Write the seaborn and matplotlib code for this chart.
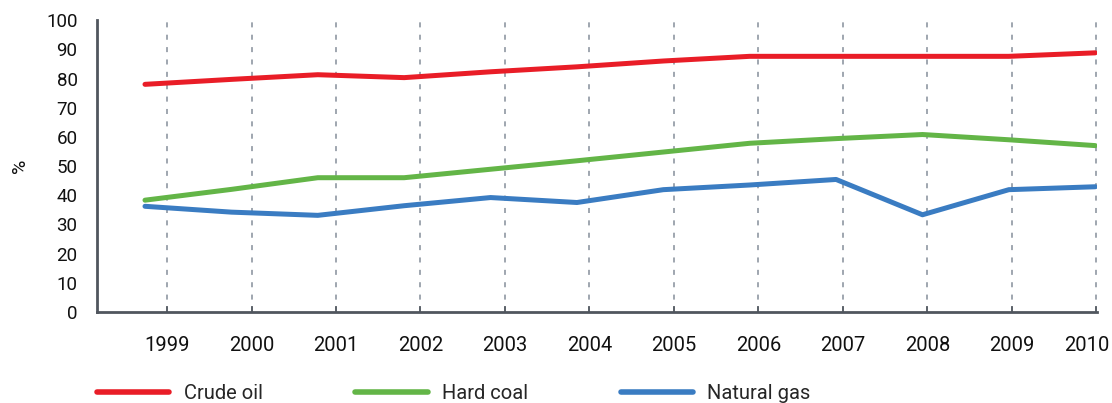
import matplotlib
matplotlib.use("Agg")
import matplotlib.pyplot as plt
import matplotlib.transforms as mtransforms
import numpy as np
import pandas as pd
import seaborn as sns

# Data (%)
years = ["1999", "2000", "2001", "2002", "2003", "2004",
         "2005", "2006", "2007", "2008", "2009", "2010"]
crude_oil = [78.0, 79.7, 81.3, 80.3, 82.3, 84.0, 86.0, 87.6, 87.6, 87.6, 87.6, 88.8]
hard_coal = [38.3, 42.0, 46.0, 46.0, 48.9, 51.8, 54.8, 57.8, 59.4, 60.8, 59.0, 57.0]
natural_gas = [36.2, 34.2, 33.1, 36.4, 39.2, 37.5, 41.9, 43.5, 45.4, 33.3, 41.9, 42.9]

series_names = ["Crude oil", "Hard coal", "Natural gas"]
colors = ["#e91d27", "#63b547", "#3a7cc2"]

df = pd.DataFrame({
    "pos": np.arange(len(years)),
    "Crude oil": crude_oil,
    "Hard coal": hard_coal,
    "Natural gas": natural_gas,
}).melt(id_vars="pos", var_name="series", value_name="share")

sns.set_theme(style="white")
plt.rcParams["font.family"] = ["Roboto", "DejaVu Sans"]

spine_color = "#50565e"
grid_color = "#858e9a"

fig, ax = plt.subplots(figsize=(11.12, 4.03), dpi=100)
fig.subplots_adjust(left=0.0872, right=0.9865, top=0.950, bottom=0.226)

sns.lineplot(data=df, x="pos", y="share", hue="series", hue_order=series_names,
             palette=colors, linewidth=3.6, ax=ax)

# category gridlines sit slightly off the data points, as in the original
tick_pos = np.arange(len(years)) * 0.978 + 0.255
ax.set_xticks(tick_pos, years)
ax.set_xlim(-0.556, 11.02)
ax.set_yticks(range(0, 101, 10))
ax.set_ylim(0, 100)

ax.grid(axis="x", color=grid_color, linewidth=1.1, linestyle=(0, (3.3, 4.8)))
ax.grid(axis="y", visible=False)
ax.set_axisbelow(True)

for side in ["top", "right"]:
    ax.spines[side].set_visible(False)
for side in ["left", "bottom"]:
    ax.spines[side].set_color(spine_color)
    ax.spines[side].set_linewidth(2)

ax.tick_params(axis="x", direction="in", length=4, width=1.2, color=spine_color,
               pad=17, labelsize=14.5, labelcolor="#111111", bottom=True)
ax.tick_params(axis="y", length=0, pad=14, labelsize=13.5, labelcolor="#111111")

# last year label is pulled back inside the figure edge
last = ax.get_xticklabels()[-1]
last.set_transform(last.get_transform() +
                   mtransforms.ScaledTranslation(-10 / 100, 0, fig.dpi_scale_trans))

ax.set_xlabel("")
ax.set_ylabel("%", fontsize=14, labelpad=12, color="#111111")

sns.move_legend(ax, "upper left", bbox_to_anchor=(0.0872, 0.047),
                bbox_transform=fig.transFigure, ncol=3, frameon=False, title=None,
                fontsize=14.5, handlelength=3.6, handletextpad=0.7,
                columnspacing=4.6, borderaxespad=0, borderpad=0)
for line in ax.get_legend().get_lines():
    line.set_linewidth(4)
    line.set_solid_capstyle("round")

plt.savefig("out.png", dpi=100)
plt.close()
